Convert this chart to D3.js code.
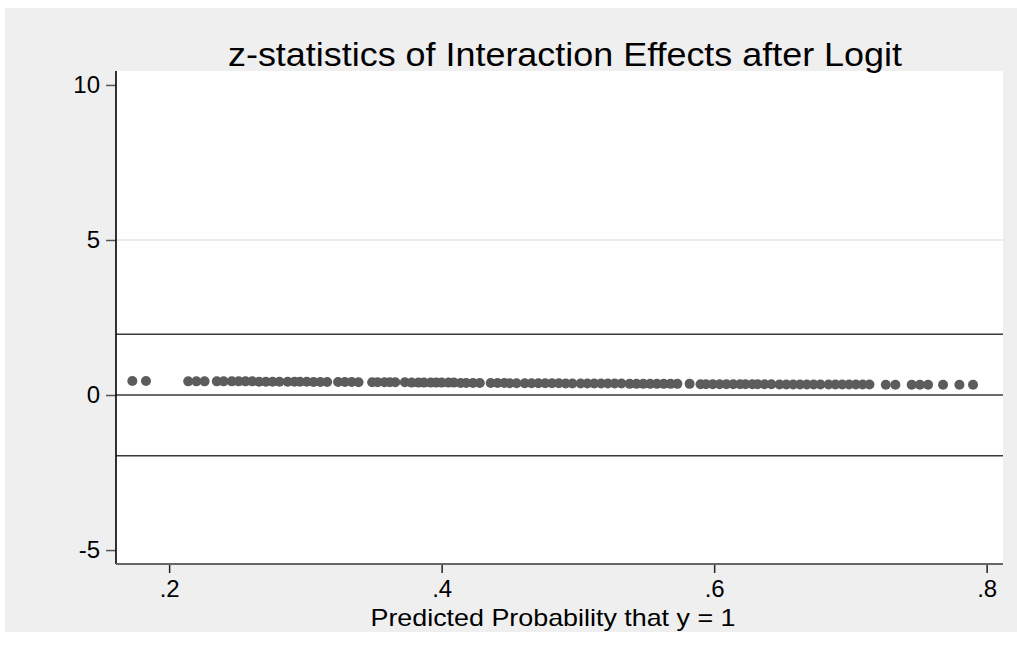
<!DOCTYPE html>
<html>
<head>
<meta charset="utf-8">
<script src="https://cdn.jsdelivr.net/npm/d3@7"></script>
<style>
  body { margin: 0; background: #fff; }
  text { font-family: "Liberation Sans", Arial, sans-serif; fill: #000; }
</style>
</head>
<body>
<svg id="chart" width="1017" height="648"></svg>
<script>
// predicted probability (x) for each observation
const probs = [0.173, 0.183, 0.214, 0.220, 0.226, 0.235, 0.240, 0.246, 0.251, 0.256,
  0.261, 0.266, 0.271, 0.276, 0.281, 0.287, 0.292, 0.296, 0.301, 0.306,
  0.311, 0.316, 0.324, 0.329, 0.334, 0.339, 0.349, 0.353, 0.358, 0.362,
  0.366, 0.373, 0.378, 0.383, 0.387, 0.392, 0.396, 0.400, 0.405, 0.409,
  0.414, 0.418, 0.423, 0.428, 0.436, 0.441, 0.446, 0.450, 0.455, 0.461,
  0.466, 0.471, 0.476, 0.481, 0.486, 0.491, 0.496, 0.502, 0.507, 0.512,
  0.517, 0.522, 0.527, 0.532, 0.538, 0.543, 0.548, 0.553, 0.558, 0.563,
  0.568, 0.573, 0.582, 0.590, 0.594, 0.599, 0.604, 0.609, 0.614, 0.619,
  0.623, 0.628, 0.632, 0.637, 0.642, 0.648, 0.653, 0.658, 0.663, 0.668,
  0.673, 0.678, 0.684, 0.689, 0.694, 0.699, 0.704, 0.709, 0.714, 0.726,
  0.733, 0.745, 0.751, 0.757, 0.768, 0.780, 0.790];

// z-statistic of the interaction effect for each observation
const zstats = [0.45, 0.45, 0.44, 0.44, 0.44, 0.44, 0.44, 0.44, 0.44, 0.44,
  0.44, 0.43, 0.43, 0.43, 0.43, 0.43, 0.43, 0.43, 0.43, 0.42,
  0.42, 0.42, 0.42, 0.42, 0.42, 0.41, 0.41, 0.41, 0.41, 0.41,
  0.41, 0.41, 0.40, 0.40, 0.40, 0.40, 0.40, 0.40, 0.40, 0.40,
  0.39, 0.39, 0.39, 0.39, 0.39, 0.39, 0.39, 0.38, 0.38, 0.38,
  0.38, 0.38, 0.38, 0.38, 0.38, 0.37, 0.37, 0.37, 0.37, 0.37,
  0.37, 0.37, 0.37, 0.37, 0.36, 0.36, 0.36, 0.36, 0.36, 0.36,
  0.36, 0.36, 0.36, 0.35, 0.35, 0.35, 0.35, 0.35, 0.35, 0.35,
  0.35, 0.35, 0.35, 0.35, 0.35, 0.34, 0.34, 0.34, 0.34, 0.34,
  0.34, 0.34, 0.34, 0.34, 0.34, 0.34, 0.34, 0.34, 0.34, 0.33,
  0.33, 0.33, 0.33, 0.33, 0.33, 0.33, 0.33];

const yTicks = [-5, 0, 5, 10];
const xTicks = [0.2, 0.4, 0.6, 0.8];
const refLines = [-1.96, 0, 1.96];
const gridLines = [5];

const svg = d3.select("#chart");
const margin = { top: 71, right: 14, bottom: 84, left: 116 };
const width = 1017 - margin.left - margin.right;
const height = 648 - margin.top - margin.bottom;

// grey outer panel and white plot region
svg.append("rect")
  .attr("x", 5).attr("y", 8)
  .attr("width", 1012).attr("height", 624)
  .attr("fill", "#efefef");

const g = svg.append("g")
  .attr("transform", `translate(${margin.left},${margin.top})`);

g.append("rect")
  .attr("width", width).attr("height", height)
  .attr("fill", "#fff");

const x = d3.scaleLinear().domain([0.161, 0.812]).range([0, width]);
const y = d3.scaleLinear().domain([-5.45, 10.45]).range([height, 0]);

// light grid line(s)
g.selectAll(".grid")
  .data(gridLines)
  .join("line")
  .attr("x1", 0).attr("x2", width)
  .attr("y1", d => y(d)).attr("y2", d => y(d))
  .attr("stroke", "#e4e4e4").attr("stroke-width", 1.5);

// reference lines at +-1.96 and 0
g.selectAll(".ref")
  .data(refLines)
  .join("line")
  .attr("x1", 0).attr("x2", width)
  .attr("y1", d => y(d)).attr("y2", d => y(d))
  .attr("stroke", "#3a3a3a").attr("stroke-width", 1.6);

// points
g.selectAll("circle")
  .data(probs.map((p, i) => ({ p: p, z: zstats[i] })))
  .join("circle")
  .attr("cx", d => x(d.p))
  .attr("cy", d => y(d.z))
  .attr("r", 5)
  .attr("fill", "#5c5c5c");

// y axis
const yAxis = g.append("g")
  .call(d3.axisLeft(y).tickValues(yTicks).tickSize(10).tickPadding(6).tickFormat(d => String(d)));
yAxis.select(".domain").remove();
yAxis.selectAll(".tick line").attr("stroke", "#555").attr("stroke-width", 1.5);
yAxis.selectAll(".tick text").attr("font-size", 24).attr("fill", "#000")
  .style("font-family", "Liberation Sans, Arial, sans-serif");
g.append("line")
  .attr("x1", 0).attr("x2", 0).attr("y1", 0).attr("y2", height)
  .attr("stroke", "#000").attr("stroke-width", 1.6);

// x axis
const xAxis = g.append("g")
  .attr("transform", `translate(0,${height})`)
  .call(d3.axisBottom(x).tickValues(xTicks).tickSize(9).tickPadding(7)
    .tickFormat(d => d3.format(".1f")(d).replace(/^0/, "")));
xAxis.select(".domain").remove();
xAxis.selectAll(".tick line").attr("stroke", "#222").attr("stroke-width", 1.5);
xAxis.selectAll(".tick text").attr("font-size", 24).attr("fill", "#000")
  .style("font-family", "Liberation Sans, Arial, sans-serif");
g.append("line")
  .attr("x1", 0).attr("x2", width).attr("y1", height).attr("y2", height)
  .attr("stroke", "#666").attr("stroke-width", 2);

// axis title
svg.append("text")
  .attr("x", 553).attr("y", 626)
  .attr("text-anchor", "middle")
  .attr("font-size", 24)
  .attr("textLength", 365)
  .attr("lengthAdjust", "spacingAndGlyphs")
  .text("Predicted Probability that y = 1");

// chart title
svg.append("text")
  .attr("x", 565).attr("y", 66)
  .attr("text-anchor", "middle")
  .attr("font-size", 34)
  .attr("textLength", 674)
  .attr("lengthAdjust", "spacingAndGlyphs")
  .text("z-statistics of Interaction Effects after Logit");
</script>
</body>
</html>
